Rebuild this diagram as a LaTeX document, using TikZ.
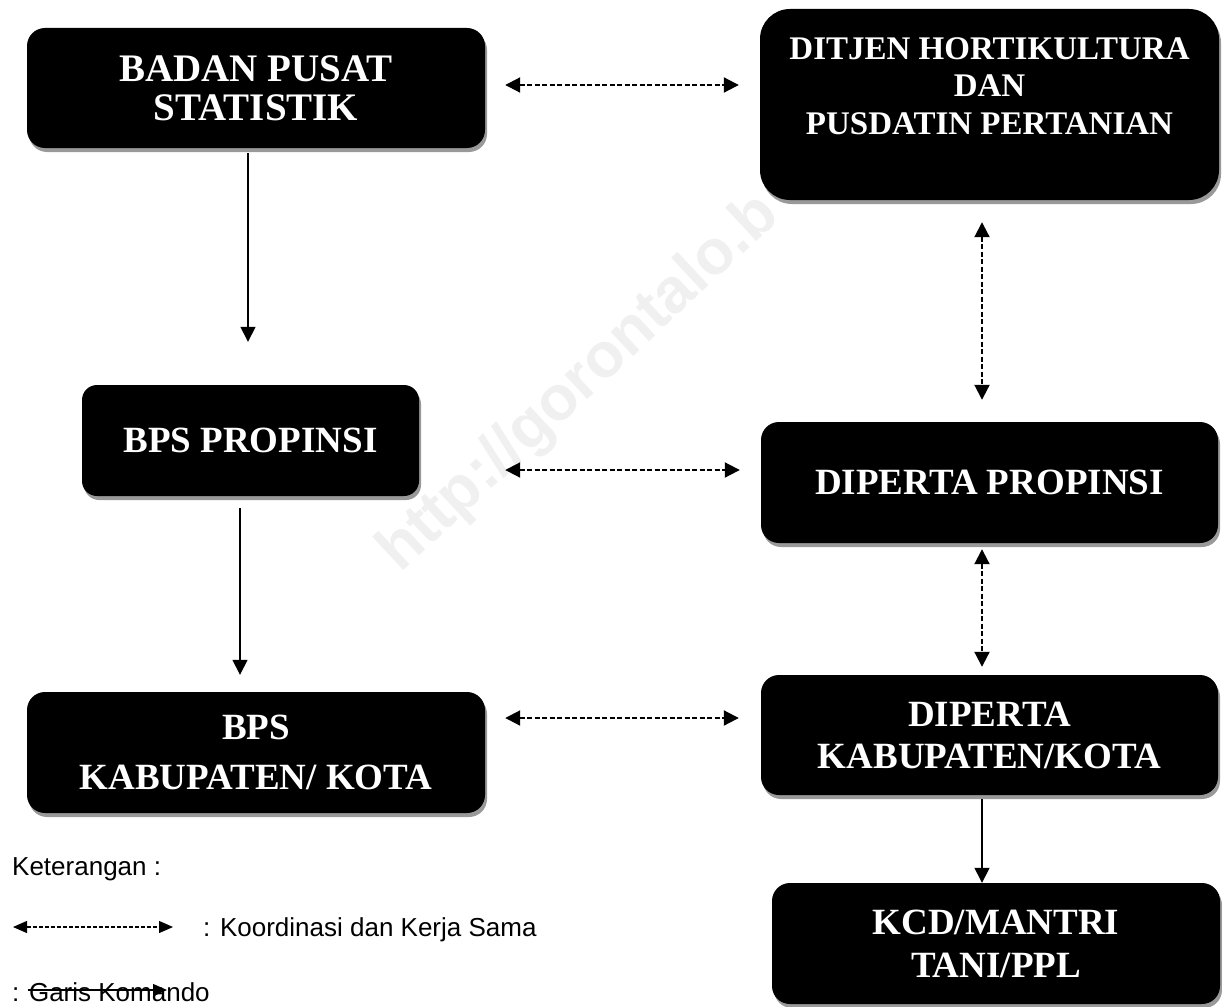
\documentclass[tikz,border=0pt]{standalone}
\usepackage{fontspec}
\setmainfont{Liberation Serif}
\newfontfamily\sansf{Liberation Sans}
\usetikzlibrary{arrows.meta,shadows}
\begin{document}
\begin{tikzpicture}[x=1pt,y=-1pt,
  box/.style={fill=black, text=white, rounded corners=18pt, align=center, inner sep=0pt,
    font=\bfseries\fontsize{37}{39}\selectfont,
    drop shadow={shadow xshift=2pt, shadow yshift=-4pt, fill=black!40, opacity=1}},
  cmd/.style={line width=1.5pt, -{Triangle[width=15pt,length=15pt]}},
  coord/.style={line width=2pt, dash pattern=on 5pt off 2.5pt,
    {Triangle[width=15pt,length=15pt]}-{Triangle[width=15pt,length=15pt]}},
  legcoord/.style={line width=1.2pt, dash pattern=on 4pt off 2pt,
    {Triangle[width=12pt,length=14pt]}-{Triangle[width=12pt,length=14pt]}},
  legcmd/.style={line width=1.3pt, -{Triangle[width=12pt,length=14pt]}},
  legtext/.style={font=\sansf\fontsize{26}{30}\selectfont, anchor=base west, inner sep=0pt},
  wmark/.style={font=\sansf\bfseries\fontsize{63}{63}\selectfont, text=black!6, rotate=43,
    anchor=base west, inner sep=0pt}
]
\useasboundingbox (0,0) rectangle (1222,1006);
\clip (0,0) rectangle (1222,1006);

% watermark
\node[wmark] (wm) at (400,574) {http://gorontalo.b};

% boxes
\node[box, minimum width=458pt, minimum height=120pt, font=\bfseries\fontsize{39}{39}\selectfont]
  (bps) at (256,88) {BADAN PUSAT\\STATISTIK};
\node[box, rounded corners=30pt, minimum width=459pt, minimum height=191pt,
  font=\bfseries\fontsize{33}{37.5}\selectfont]
  (ditjen) at (989.5,104.5) {DITJEN HORTIKULTURA\\DAN\\PUSDATIN PERTANIAN\\\mbox{}};
\node[box, rounded corners=15pt, minimum width=337pt, minimum height=111pt]
  (bpsprop) at (250.5,440.5) {BPS PROPINSI};
\node[box, minimum width=457pt, minimum height=121pt]
  (dipprop) at (989.5,482.5) {DIPERTA PROPINSI};
\node[box, minimum width=458pt, minimum height=121pt, font=\bfseries\fontsize{37}{50}\selectfont]
  (bpskab) at (256,752.5) {BPS\\KABUPATEN/ KOTA};
\node[box, minimum width=457pt, minimum height=120pt, font=\bfseries\fontsize{37}{42}\selectfont]
  (dipkab) at (989.5,735) {DIPERTA\\KABUPATEN/KOTA};
\node[box, minimum width=448pt, minimum height=121pt, font=\bfseries\fontsize{37}{43}\selectfont]
  (kcd) at (996,943.5) {KCD/MANTRI\\TANI/PPL};

% alignment coordinates
\coordinate (s1) at (248,0);
\coordinate (s2) at (240,0);
\coordinate (v1) at (982,0);
\coordinate (h1) at (0,85);
\coordinate (h2) at (0,470);
\coordinate (h3) at (0,718);

% command lines
\draw[cmd, shorten <=5pt, shorten >=43pt] (bps.south -| s1) -- (bpsprop.north -| s1);
\draw[cmd, shorten <=12pt, shorten >=17pt] (bpsprop.south -| s2) -- (bpskab.north -| s2);
\draw[cmd, shorten <=4pt] (dipkab.south -| v1) -- (kcd.north -| v1);

% coordination lines
\draw[coord, shorten <=20pt, shorten >=21pt] (bps.east |- h1) -- (ditjen.west |- h1);
\draw[coord, shorten <=86pt, shorten >=21pt] (bpsprop.east |- h2) -- (dipprop.west |- h2);
\draw[coord, shorten <=20pt, shorten >=22pt] (bpskab.east |- h3) -- (dipkab.west |- h3);
\draw[coord, shorten <=22pt, shorten >=22pt] (ditjen.south -| v1) -- (dipprop.north -| v1);
\draw[coord, shorten <=6pt, shorten >=8pt] (dipprop.south -| v1) -- (dipkab.north -| v1);

% legend
\node[legtext] (ket) at (12,875) {Keterangan :};
\coordinate (la1) at (13,927);
\coordinate (la2) at (173,927);
\draw[legcoord] (la1) -- (la2);
\node[legtext] (koord) at (203,936) {: Koordinasi dan Kerja Sama};
\node[legtext] (garis) at (12,1001) {: Garis Komando};
\coordinate (lb1) at (28,990);
\coordinate (lb2) at (167,990);
\draw[legcmd] (lb1) -- (lb2);
\end{tikzpicture}
\end{document}
